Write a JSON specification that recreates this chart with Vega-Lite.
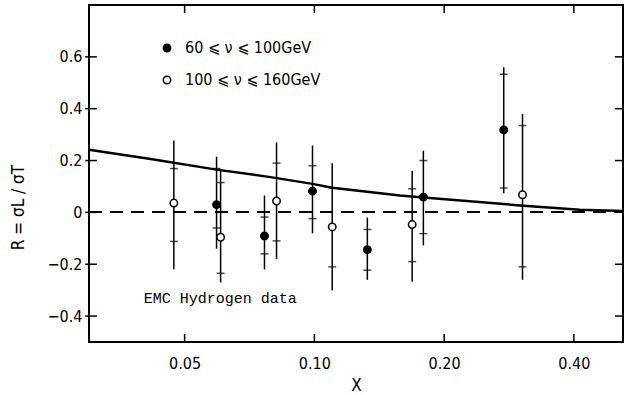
{
  "$schema": "https://vega.github.io/schema/vega-lite/v6.json",
  "width": 534,
  "height": 337,
  "autosize": "none",
  "padding": {"left": 89, "top": 5, "right": 10, "bottom": 53},
  "background": "white",
  "config": {
    "view": {"stroke": "black", "strokeWidth": 2, "fill": null},
    "font": "DejaVu Sans Condensed",
    "axis": {"domain": false, "grid": false, "ticks": false, "labelColor": "black", "titleColor": "black", "labelFont": "DejaVu Sans Condensed", "titleFont": "DejaVu Sans Condensed", "labelFontSize": 16, "titleFontSize": 17, "titleFontWeight": "normal"}
  },
  "datasets": {
    "pts": [
      {"x": 0.0472, "y": 0.036, "ihi": 0.169, "hi": 0.277, "ilo": -0.112, "lo": -0.219, "series": "100 ⩽ ν ⩽ 160GeV"},
      {"x": 0.0593, "y": 0.03, "ihi": 0.169, "hi": 0.215, "ilo": -0.06, "lo": -0.14, "series": "60 ⩽ ν ⩽ 100GeV"},
      {"x": 0.0606, "y": -0.096, "ihi": 0.115, "hi": 0.16, "ilo": -0.235, "lo": -0.27, "series": "100 ⩽ ν ⩽ 160GeV"},
      {"x": 0.0766, "y": -0.091, "ihi": -0.018, "hi": 0.065, "ilo": -0.16, "lo": -0.22, "series": "60 ⩽ ν ⩽ 100GeV"},
      {"x": 0.0817, "y": 0.044, "ihi": 0.19, "hi": 0.27, "ilo": -0.11, "lo": -0.18, "series": "100 ⩽ ν ⩽ 160GeV"},
      {"x": 0.099, "y": 0.082, "ihi": 0.18, "hi": 0.258, "ilo": -0.024, "lo": -0.081, "series": "60 ⩽ ν ⩽ 100GeV"},
      {"x": 0.110, "y": -0.056, "ihi": 0.095, "hi": 0.19, "ilo": -0.21, "lo": -0.3, "series": "100 ⩽ ν ⩽ 160GeV"},
      {"x": 0.1327, "y": -0.144, "ihi": -0.066, "hi": -0.02, "ilo": -0.223, "lo": -0.26, "series": "60 ⩽ ν ⩽ 100GeV"},
      {"x": 0.1686, "y": -0.047, "ihi": 0.091, "hi": 0.16, "ilo": -0.19, "lo": -0.268, "series": "100 ⩽ ν ⩽ 160GeV"},
      {"x": 0.179, "y": 0.059, "ihi": 0.2, "hi": 0.238, "ilo": -0.082, "lo": -0.127, "series": "60 ⩽ ν ⩽ 100GeV"},
      {"x": 0.275, "y": 0.318, "ihi": 0.533, "hi": 0.56, "ilo": 0.094, "lo": 0.074, "series": "60 ⩽ ν ⩽ 100GeV"},
      {"x": 0.304, "y": 0.068, "ihi": 0.335, "hi": 0.38, "ilo": -0.21, "lo": -0.26, "series": "100 ⩽ ν ⩽ 160GeV"}
    ],
    "curve": [
      {"x": 0.030, "y": 0.242},
      {"x": 0.0417, "y": 0.206},
      {"x": 0.0593, "y": 0.165},
      {"x": 0.0791, "y": 0.136},
      {"x": 0.099, "y": 0.11},
      {"x": 0.110, "y": 0.095},
      {"x": 0.158, "y": 0.065},
      {"x": 0.179, "y": 0.057},
      {"x": 0.300, "y": 0.027},
      {"x": 0.413, "y": 0.01},
      {"x": 0.52, "y": 0.005}
    ],
    "axticks": [
      {"x": 0.05, "x2": 0.05, "y": -0.5, "y2": -0.469},
      {"x": 0.1, "x2": 0.1, "y": -0.5, "y2": -0.469},
      {"x": 0.2, "x2": 0.2, "y": -0.5, "y2": -0.469},
      {"x": 0.4, "x2": 0.4, "y": -0.5, "y2": -0.469},
      {"x": 0.05, "x2": 0.05, "y": 0.8, "y2": 0.769},
      {"x": 0.1, "x2": 0.1, "y": 0.8, "y2": 0.769},
      {"x": 0.2, "x2": 0.2, "y": 0.8, "y2": 0.769},
      {"x": 0.4, "x2": 0.4, "y": 0.8, "y2": 0.769},
      {"x": 0.0294, "x2": 0.0313, "y": -0.4, "y2": -0.4},
      {"x": 0.0294, "x2": 0.0313, "y": -0.2, "y2": -0.2},
      {"x": 0.0294, "x2": 0.0313, "y": 0.0, "y2": 0.0},
      {"x": 0.0294, "x2": 0.0313, "y": 0.2, "y2": 0.2},
      {"x": 0.0294, "x2": 0.0313, "y": 0.4, "y2": 0.4},
      {"x": 0.0294, "x2": 0.0313, "y": 0.6, "y2": 0.6},
      {"x": 0.498, "x2": 0.52, "y": -0.4, "y2": -0.4},
      {"x": 0.498, "x2": 0.52, "y": -0.2, "y2": -0.2},
      {"x": 0.498, "x2": 0.52, "y": 0.2, "y2": 0.2},
      {"x": 0.498, "x2": 0.52, "y": 0.4, "y2": 0.4},
      {"x": 0.498, "x2": 0.52, "y": 0.6, "y2": 0.6}
    ],
    "label": [
      {"x": 0.0402, "y": -0.33, "text": "EMC Hydrogen data"}
    ]
  },
  "layer": [
    {
      "data": {"name": "curve"},
      "mark": {"type": "line", "color": "black", "strokeWidth": 2.5, "clip": true},
      "encoding": {
        "x": {"field": "x", "type": "quantitative", "scale": {"type": "log", "domain": [0.03, 0.52], "nice": false}, "axis": {"orient": "bottom", "values": [0.05, 0.1, 0.2, 0.4], "format": ".2f", "labelPadding": 13, "title": "X", "titlePadding": 6}},
        "y": {"field": "y", "type": "quantitative", "scale": {"domain": [-0.5, 0.8], "nice": false}, "axis": {"orient": "left", "values": [-0.4, -0.2, 0, 0.2, 0.4, 0.6], "labelExpr": "datum.value == 0 ? '0' : format(datum.value, '.1f')", "labelPadding": 7, "title": "R = σL / σT", "titleX": -62, "titleY": 202}}
      }
    },
    {
      "data": {"name": "curve"},
      "mark": {"type": "rule", "color": "black", "strokeWidth": 1.3, "strokeDash": [13, 8]},
      "encoding": {
        "y": {"datum": 0, "type": "quantitative"},
        "x": {"datum": 0.03, "type": "quantitative"},
        "x2": {"datum": 0.52}
      }
    },
    {
      "data": {"name": "axticks"},
      "mark": {"type": "rule", "color": "black", "strokeWidth": 1.5, "clip": false},
      "encoding": {
        "x": {"field": "x", "type": "quantitative"},
        "x2": {"field": "x2"},
        "y": {"field": "y", "type": "quantitative"},
        "y2": {"field": "y2"}
      }
    },
    {
      "data": {"name": "pts"},
      "mark": {"type": "rule", "color": "black", "strokeWidth": 1.5},
      "encoding": {
        "x": {"field": "x", "type": "quantitative"},
        "y": {"field": "lo", "type": "quantitative"},
        "y2": {"field": "hi"}
      }
    },
    {
      "data": {"name": "pts"},
      "mark": {"type": "tick", "orient": "horizontal", "color": "black", "size": 8, "thickness": 1.5},
      "encoding": {
        "x": {"field": "x", "type": "quantitative"},
        "y": {"field": "ihi", "type": "quantitative"}
      }
    },
    {
      "data": {"name": "pts"},
      "mark": {"type": "tick", "orient": "horizontal", "color": "black", "size": 8, "thickness": 1.5},
      "encoding": {
        "x": {"field": "x", "type": "quantitative"},
        "y": {"field": "ilo", "type": "quantitative"}
      }
    },
    {
      "data": {"name": "pts"},
      "mark": {"type": "point", "shape": "circle", "stroke": "black", "strokeWidth": 1.5, "opacity": 1, "size": 55},
      "encoding": {
        "x": {"field": "x", "type": "quantitative"},
        "y": {"field": "y", "type": "quantitative"},
        "fill": {"field": "series", "type": "nominal", "scale": {"domain": ["60 ⩽ ν ⩽ 100GeV", "100 ⩽ ν ⩽ 160GeV"], "range": ["black", "white"]},
          "legend": {"orient": "none", "legendX": 70, "legendY": 35, "title": null, "padding": 0, "symbolType": "circle", "symbolSize": 55, "symbolStrokeColor": "black", "symbolStrokeWidth": 1.5, "labelFontSize": 16, "labelFont": "DejaVu Sans Condensed", "labelColor": "black", "labelOffset": 10, "rowPadding": 16}}
      }
    },
    {
      "data": {"name": "label"},
      "mark": {"type": "text", "font": "Liberation Mono", "fontSize": 15, "align": "left", "baseline": "middle", "color": "black"},
      "encoding": {
        "x": {"field": "x", "type": "quantitative"},
        "y": {"field": "y", "type": "quantitative"},
        "text": {"field": "text"}
      }
    }
  ]
}
